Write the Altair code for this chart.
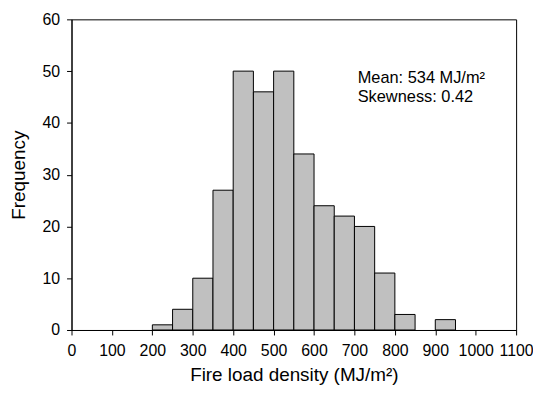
import altair as alt
import pandas as pd

bin_start = [0, 50, 100, 150, 200, 250, 300, 350, 400, 450, 500, 550, 600, 650, 700, 750, 800, 850, 900, 950, 1000, 1050]
counts = [0, 0, 0, 0, 1, 4, 10, 27, 50, 46, 50, 34, 24, 22, 20, 11, 3, 0, 2, 0, 0, 0]
bin_width = 50
x_ticks = [0, 100, 200, 300, 400, 500, 600, 700, 800, 900, 1000, 1100]
y_ticks = [0, 10, 20, 30, 40, 50, 60]
annotations = ["Mean: 534 MJ/m\u00b2", "Skewness: 0.42"]
ann_y = [48.6, 44.9]

df = pd.DataFrame({"start": bin_start, "count": counts})
df["end"] = df["start"] + bin_width
df = df[df["count"] > 0]

FONT = "Liberation Sans"

x_scale = alt.Scale(domain=[0, 1100], nice=False, zero=True)
y_scale = alt.Scale(domain=[0, 60], nice=False)

x_axis = alt.Axis(values=x_ticks, title="Fire load density (MJ/m\u00b2)",
                  format="d",
                  grid=False, tickColor="black", domainColor="black",
                  tickSize=5, labelPadding=8, labelFontSize=16,
                  labelColor="black", titleFontSize=19, titleFontWeight="normal",
                  titleColor="black", titlePadding=7, labelFont=FONT,
                  titleFont=FONT, labelOverlap=False, labelFlush=False)
y_axis = alt.Axis(values=y_ticks, title="Frequency", grid=False,
                  tickColor="black", domainColor="black", tickSize=5,
                  labelPadding=7, labelFontSize=16, labelColor="black",
                  titleFontSize=19, titleFontWeight="normal", titleColor="black",
                  titlePadding=14, labelFont=FONT, titleFont=FONT)

bars = alt.Chart(df).mark_bar(
    color="#c0c0c0", stroke="black", strokeWidth=1, binSpacing=0
).encode(
    x=alt.X("start:Q", scale=x_scale, axis=x_axis),
    x2="end:Q",
    y=alt.Y("count:Q", scale=y_scale, axis=y_axis),
    y2=alt.datum(0),
)

ann_df = pd.DataFrame({"text": annotations, "yy": ann_y})
ann = alt.Chart(ann_df).mark_text(
    align="left", baseline="middle", font=FONT, fontSize=16.5, color="black"
).encode(
    x=alt.X(datum=708, scale=x_scale, axis=x_axis),
    y=alt.Y("yy:Q", scale=y_scale, axis=y_axis),
    text="text:N",
)

chart = alt.layer(bars, ann).properties(
    width=448, height=313,
    background="white",
    autosize=alt.AutoSizeParams(type="none"),
    padding={"left": 64, "top": 10, "right": 17, "bottom": 56},
).configure_view(stroke="black", strokeWidth=1)

chart.save("out.html", embed_options={"renderer": "svg", "actions": False})
